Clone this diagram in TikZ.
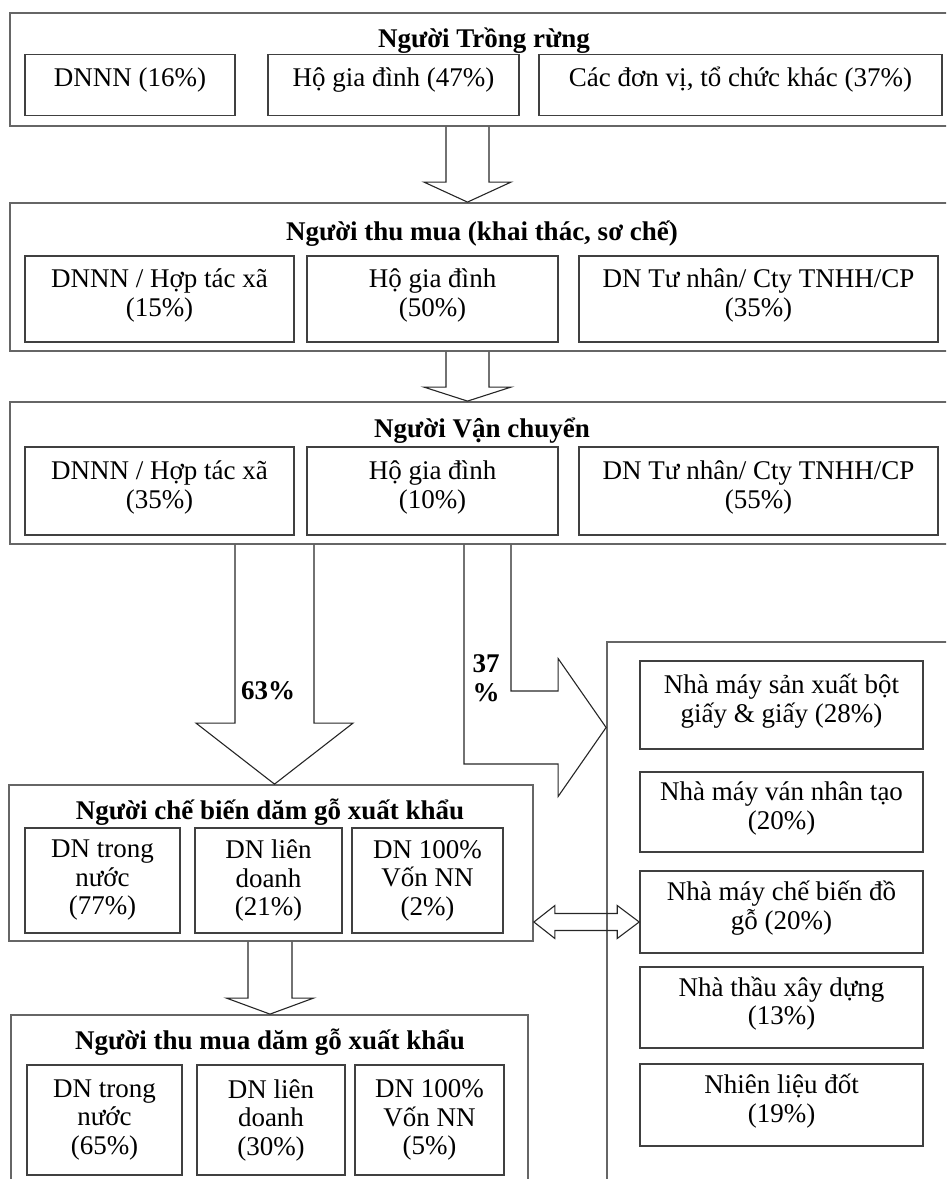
\documentclass[tikz,border=0pt]{standalone}
\usepackage{fontspec}
\setmainfont{Liberation Serif}
\usetikzlibrary{calc}

\newcommand{\boxfont}{\fontsize{27}{28.5}\selectfont}
\newcommand{\blockdown}[5]{%
  \draw[blockarrow] let \p1=(#1), \p2=(#2) in
    (\x1-#3pt,\y1) -- (\x1-#3pt,\y2+#5pt) -- (\x1-#4pt,\y2+#5pt) -- (\p2)
    -- (\x1+#4pt,\y2+#5pt) -- (\x1+#3pt,\y2+#5pt) -- (\x1+#3pt,\y1);}

\begin{document}
\begin{tikzpicture}[x=1pt,y=-1pt]
  \tikzset{outer box/.style={draw=black!60,line width=1.8pt,inner sep=0pt},
    sub box/.style={draw=black!75,line width=1.6pt,align=center,inner sep=2pt,font=\boxfont},
    top row/.style={text height=20pt,text depth=18pt},
    two line/.style={text height=50pt,text depth=16pt},
    head/.style={font=\boxfont\bfseries,anchor=base},
    blockarrow/.style={draw=black!85,line width=1.1pt,line join=miter}}
  \useasboundingbox (0,0) rectangle (946,1179);
  \clip (0,0) rectangle (946,1179);

  \node[outer box,minimum width=945pt,minimum height=113pt] (trong) at (482.5,69.5) {};
  \node[head] (trongT) at (484,47.5) {Người Trồng rừng};
  \node[sub box,top row,minimum width=210pt,minimum height=61pt] (trong1) at (130,85) {DNNN (16\%)};
  \node[sub box,top row,minimum width=251pt,minimum height=61pt] (trong2) at (393.5,85) {Hộ gia đình (47\%)};
  \node[sub box,top row,minimum width=403pt,minimum height=61pt] (trong3) at (740.5,85) {Các đơn vị, tổ chức khác (37\%)};

  \node[outer box,minimum width=945pt,minimum height=148pt] (thumua) at (482.5,277) {};
  \node[head] (thumuaT) at (482,240) {Người thu mua (khai thác, sơ chế)};
  \node[sub box,two line,minimum width=269pt,minimum height=86pt] (thumua1) at (159.5,299) {DNNN / Hợp tác xã\\(15\%)};
  \node[sub box,two line,minimum width=251pt,minimum height=86pt] (thumua2) at (432.5,299) {Hộ gia đình\\(50\%)};
  \node[sub box,two line,minimum width=359pt,minimum height=86pt] (thumua3) at (758.5,299) {DN Tư nhân/ Cty TNHH/CP\\(35\%)};

  \node[outer box,minimum width=945pt,minimum height=142pt] (vanchuyen) at (482.5,473) {};
  \node[head] (vanchuyenT) at (482,437) {Người Vận chuyển};
  \node[sub box,two line,minimum width=269pt,minimum height=88pt] (vanchuyen1) at (159.5,491) {DNNN / Hợp tác xã\\(35\%)};
  \node[sub box,two line,minimum width=251pt,minimum height=88pt] (vanchuyen2) at (432.5,491) {Hộ gia đình\\(10\%)};
  \node[sub box,two line,minimum width=359pt,minimum height=88pt] (vanchuyen3) at (758.5,491) {DN Tư nhân/ Cty TNHH/CP\\(55\%)};

  \node[outer box,minimum width=524pt,minimum height=156pt] (chebien) at (271,863) {};
  \node[head] (chebienT) at (270,819) {Người chế biến dăm gỗ xuất khẩu};
  \node[sub box,minimum width=155pt,minimum height=105pt] (chebien1) at (102.5,880.5) {DN trong\\nước\\(77\%)};
  \node[sub box,minimum width=147pt,minimum height=105pt] (chebien2) at (268.5,880.5) {DN liên\\doanh\\(21\%)};
  \node[sub box,minimum width=151pt,minimum height=105pt] (chebien3) at (427.5,880.5) {DN 100\%\\Vốn NN\\(2\%)};

  \node[outer box,minimum width=517pt,minimum height=175pt] (thumuadam) at (269.5,1102.5) {};
  \node[head] (thumuadamT) at (270,1049) {Người thu mua dăm gỗ xuất khẩu};
  \node[sub box,minimum width=155pt,minimum height=110pt] (thumuadam1) at (104.5,1120) {DN trong\\nước\\(65\%)};
  \node[sub box,minimum width=148pt,minimum height=110pt] (thumuadam2) at (271,1120) {DN liên\\doanh\\(30\%)};
  \node[sub box,minimum width=149pt,minimum height=110pt] (thumuadam3) at (429.5,1120) {DN 100\%\\Vốn NN\\(5\%)};

  \node[outer box,minimum width=353pt,minimum height=548pt] (tieuthu) at (783.5,916) {};
  \node[sub box,two line,minimum width=283pt,minimum height=88pt] (tieuthu1) at (781.5,705) {Nhà máy sản xuất bột\\giấy \& giấy (28\%)};
  \node[sub box,two line,minimum width=283pt,minimum height=80pt] (tieuthu2) at (781.5,812) {Nhà máy ván nhân tạo\\(20\%)};
  \node[sub box,two line,minimum width=283pt,minimum height=82pt] (tieuthu3) at (781.5,912) {Nhà máy chế biến đồ\\gỗ (20\%)};
  \node[sub box,two line,minimum width=283pt,minimum height=81pt] (tieuthu4) at (781.5,1007.5) {Nhà thầu xây dựng\\(13\%)};
  \node[sub box,two line,minimum width=283pt,minimum height=82pt] (tieuthu5) at (781.5,1105) {Nhiên liệu đốt\\(19\%)};

  \coordinate (xA) at (467.5,0);
  \coordinate (xC) at (274.5,0);
  \coordinate (xD) at (487.5,0);
  \coordinate (yD) at (0,727.5);
  \coordinate (xE) at (270,0);
  \coordinate (yF) at (0,922);

  \blockdown{trong.south -| xA}{thumua.north -| xA}{21.5}{43.5}{20}
  \blockdown{thumua.south -| xA}{vanchuyen.north -| xA}{21.5}{43.5}{14}
  \blockdown{vanchuyen.south -| xC}{chebien.north -| xC}{39.5}{78.5}{61}
  \blockdown{chebien.south -| xE}{thumuadam.north -| xE}{22}{43.5}{16}
  \draw[blockarrow] let \p1=(vanchuyen.south -| xD), \p2=(tieuthu.west |- yD) in
    (\x1-23.5pt,\y1) -- (\x1-23.5pt,\y2-36.5pt) -- (\x2-48pt,\y2-36.5pt) -- (\x2-48pt,\y2-69pt)
    -- (\p2) -- (\x2-48pt,\y2+69pt) -- (\x2-48pt,\y2+36.5pt) -- (\x1+23.5pt,\y2+36.5pt) -- (\x1+23.5pt,\y1);
  \draw[blockarrow] let \p1=(chebien.east |- yF), \p2=(tieuthu3.west |- yF) in
    (\p1) -- (\x1+21pt,\y1+16.5pt) -- (\x1+21pt,\y1+8.5pt) -- (\x2-22pt,\y1+8.5pt) -- (\x2-22pt,\y1+16.5pt)
    -- (\p2) -- (\x2-22pt,\y1-16.5pt) -- (\x2-22pt,\y1-8.5pt) -- (\x1+21pt,\y1-8.5pt) -- (\x1+21pt,\y1-16.5pt) -- cycle;

  \node[head] (p63) at (268,699) {63\%};
  \node[head,align=center] (p37) at (486,701) {37\\\%};
\end{tikzpicture}
\end{document}
